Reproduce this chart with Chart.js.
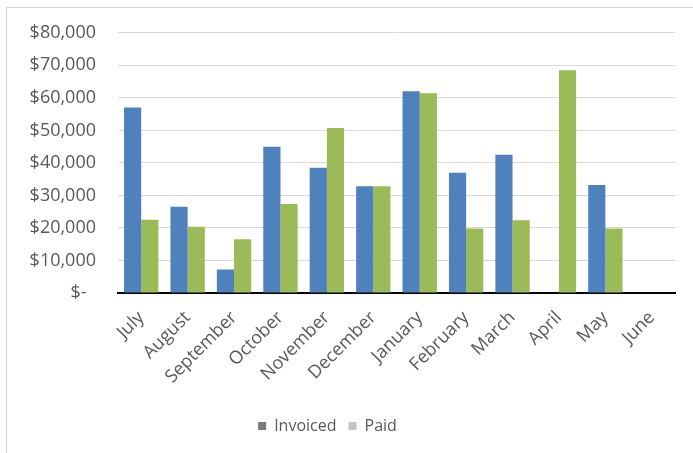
<!DOCTYPE html>
<html>
<head>
<meta charset="utf-8">
<script src="https://cdn.jsdelivr.net/npm/chart.js@4/dist/chart.umd.min.js"></script>
<style>
  html, body { margin: 0; padding: 0; background: #fff; }
  #wrap { position: absolute; left: 6px; top: 7px; width: 687px; height: 446px;
          border-left: 1px solid #d4d4d4; border-top: 1px solid #d4d4d4; }
  #box { position: absolute; left: -7px; top: -8px; width: 693px; height: 453px; }
</style>
</head>
<body>
<div id="wrap"><div id="box"><canvas id="c" width="693" height="453"></canvas></div></div>
<script>
const months = ["July","August","September","October","November","December","January","February","March","April","May","June"];
const invoiced = [57000, 26500, 7200, 45000, 38500, 32800, 62000, 37000, 42500, 0, 33200, 0];
const paid = [22500, 20400, 16500, 27400, 50700, 32800, 61400, 19800, 22400, 68500, 19800, 0];
const yTicks = [0, 10000, 20000, 30000, 40000, 50000, 60000, 70000, 80000];

const FONT = "'Open Sans', sans-serif";
const TXT = '#595959';

const legendShift = {
  id: 'legendShift',
  afterLayout(chart) {
    if (chart.legend) { chart.legend.left -= 20; chart.legend.right -= 20; }
  }
};

new Chart(document.getElementById('c'), {
  type: 'bar',
  data: {
    labels: months,
    datasets: [
      { label: 'Invoiced', data: invoiced, backgroundColor: '#4F81BD', legendColor: '#7a7a7a' },
      { label: 'Paid', data: paid, backgroundColor: '#9BBB59', legendColor: '#c4c4c4' }
    ]
  },
  options: {
    responsive: false,
    animation: false,
    datasets: { bar: { categoryPercentage: 0.74, barPercentage: 1.0 } },
    layout: { padding: { left: 20, right: 18, top: 26, bottom: 9 } },
    plugins: {
      tooltip: { enabled: false },
      legend: {
        position: 'bottom',
        labels: {
          font: { family: FONT, size: 16 },
          color: TXT,
          boxWidth: 8, boxHeight: 8,
          padding: 12,
          generateLabels(chart) {
            return chart.data.datasets.map((ds, i) => ({
              text: ds.label, fillStyle: ds.legendColor, strokeStyle: ds.legendColor,
              lineWidth: 0, hidden: false, datasetIndex: i, fontColor: TXT
            }));
          }
        }
      }
    },
    scales: {
      x: {
        grid: { display: false },
        border: { display: true, color: '#000', width: 2 },
        ticks: { font: { family: FONT, size: 18 }, color: TXT, maxRotation: 45, minRotation: 45, autoSkip: false, padding: 6 },
        afterFit(s) { s.height = 113; }
      },
      y: {
        min: 0, max: 80000,
        afterBuildTicks(s) { s.ticks = yTicks.map(v => ({ value: v })); },
        grid: { color: ctx => ctx.tick && ctx.tick.value === 0 ? 'rgba(0,0,0,0)' : '#d9d9d9', lineWidth: 1, drawTicks: false },
        border: { display: false },
        ticks: {
          font: { family: FONT, size: 18 }, color: TXT, padding: 22,
          callback: v => v === 0 ? '$-  ' : '$' + v.toLocaleString('en-US')
        },
        afterFit(s) { s.width = 98; }
      }
    }
  },
  plugins: [legendShift]
});
</script>
</body>
</html>
